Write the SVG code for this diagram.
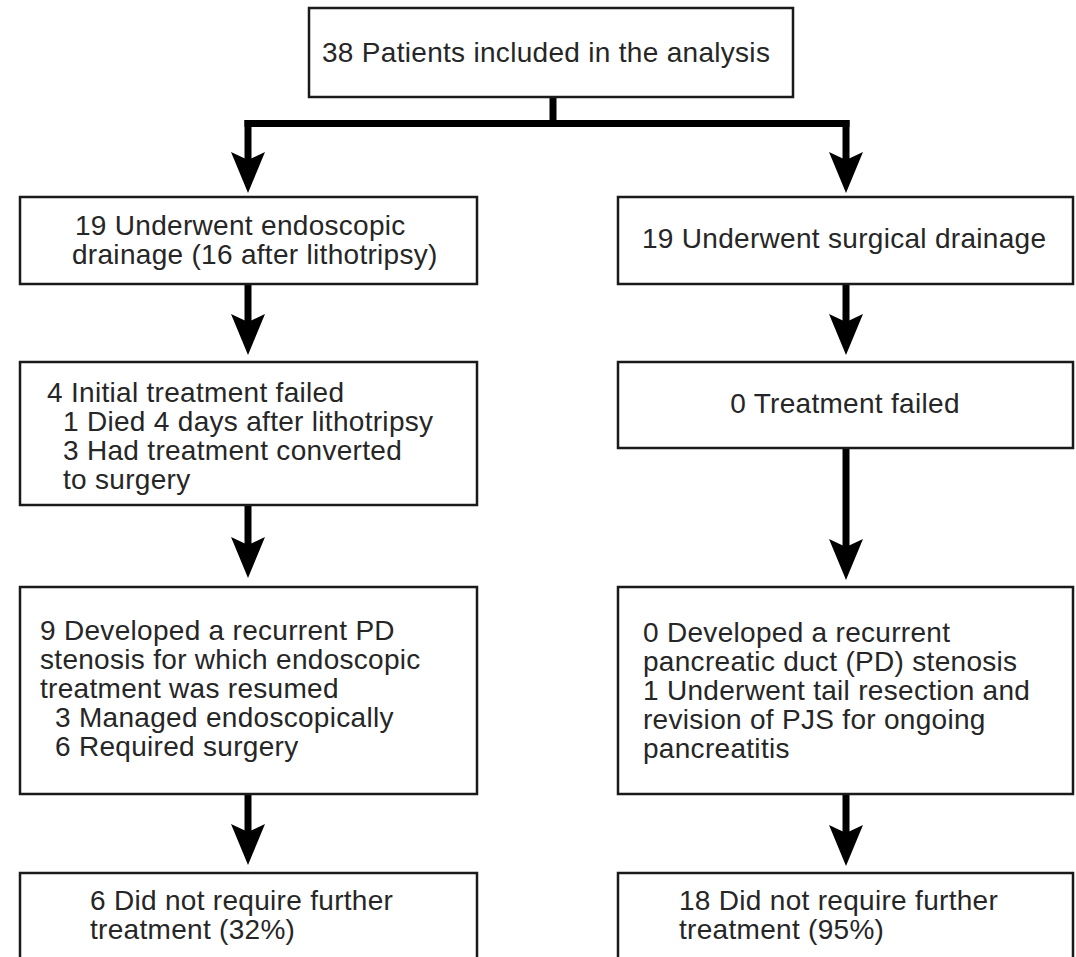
<svg xmlns="http://www.w3.org/2000/svg" xmlns:xlink="http://www.w3.org/1999/xlink" width="1076" height="957" viewBox="0 0 1076 957">
<style>
.box{fill:#fff;stroke:#1a1a1a;stroke-width:2.5}
.t{font-family:"Liberation Sans",Arial,Helvetica,sans-serif;font-size:28px;letter-spacing:0.3px;fill:#262626}
.c{text-anchor:middle}
.ln{stroke:#000;stroke-width:7;fill:none}
.hd{fill:#000}
</style>
<defs>
<path id="head" d="M0,0 L-17,-41 L0,-33 L17,-41 Z"/>
</defs>
<rect width="1076" height="957" fill="#fff"/>
<g id="connectors">
<line class="ln" x1="553" y1="97" x2="553" y2="124"/>
<line class="ln" x1="244.5" y1="123.5" x2="849.5" y2="123.5"/>
<line class="ln" x1="248" y1="120" x2="248" y2="162"/>
<use class="hd" xlink:href="#head" transform="translate(248,193)"/>
<line class="ln" x1="846" y1="120" x2="846" y2="162"/>
<use class="hd" xlink:href="#head" transform="translate(846,193)"/>
<line class="ln" x1="248" y1="284" x2="248" y2="324"/>
<use class="hd" xlink:href="#head" transform="translate(248,355)"/>
<line class="ln" x1="846" y1="284" x2="846" y2="324"/>
<use class="hd" xlink:href="#head" transform="translate(846,355)"/>
<line class="ln" x1="248" y1="505" x2="248" y2="547"/>
<use class="hd" xlink:href="#head" transform="translate(248,578)"/>
<line class="ln" x1="846" y1="448" x2="846" y2="549"/>
<use class="hd" xlink:href="#head" transform="translate(846,580)"/>
<line class="ln" x1="248" y1="794" x2="248" y2="834"/>
<use class="hd" xlink:href="#head" transform="translate(248,865)"/>
<line class="ln" x1="846" y1="794" x2="846" y2="835"/>
<use class="hd" xlink:href="#head" transform="translate(846,866)"/>
</g>
<g id="n0">
<rect class="box" x="309" y="8" width="484" height="89"/>
<text class="t" x="322" y="62">38 Patients included in the analysis</text>
</g>
<g id="nL1">
<rect class="box" x="20" y="197" width="457" height="87"/>
<text class="t" x="75" y="235">19 Underwent endoscopic</text>
<text class="t" x="72" y="264">drainage (16 after lithotripsy)</text>
</g>
<g id="nR1">
<rect class="box" x="618" y="197" width="455" height="87"/>
<text class="t" x="642" y="248">19 Underwent surgical drainage</text>
</g>
<g id="nL2">
<rect class="box" x="20" y="362" width="457" height="143"/>
<text class="t" x="47" y="402">4 Initial treatment failed</text>
<text class="t" x="63" y="431">1 Died 4 days after lithotripsy</text>
<text class="t" x="63" y="460">3 Had treatment converted</text>
<text class="t" x="63" y="489">to surgery</text>
</g>
<g id="nR2">
<rect class="box" x="618" y="362" width="455" height="86"/>
<text class="t c" x="845" y="413">0 Treatment failed</text>
</g>
<g id="nL3">
<rect class="box" x="20" y="587" width="457" height="207"/>
<text class="t" x="40" y="640">9 Developed a recurrent PD</text>
<text class="t" x="40" y="669">stenosis for which endoscopic</text>
<text class="t" x="40" y="698">treatment was resumed</text>
<text class="t" x="55" y="727">3 Managed endoscopically</text>
<text class="t" x="55" y="756">6 Required surgery</text>
</g>
<g id="nR3">
<rect class="box" x="618" y="587" width="455" height="207"/>
<text class="t" x="643" y="642">0 Developed a recurrent</text>
<text class="t" x="643" y="671">pancreatic duct (PD) stenosis</text>
<text class="t" x="643" y="700">1 Underwent tail resection and</text>
<text class="t" x="643" y="729">revision of PJS for ongoing</text>
<text class="t" x="643" y="758">pancreatitis</text>
</g>
<g id="nL4">
<rect class="box" x="20" y="873" width="457" height="100"/>
<text class="t" x="90" y="910">6 Did not require further</text>
<text class="t" x="90" y="939">treatment (32%)</text>
</g>
<g id="nR4">
<rect class="box" x="618" y="873" width="455" height="100"/>
<text class="t" x="679" y="910">18 Did not require further</text>
<text class="t" x="679" y="939">treatment (95%)</text>
</g>
</svg>
